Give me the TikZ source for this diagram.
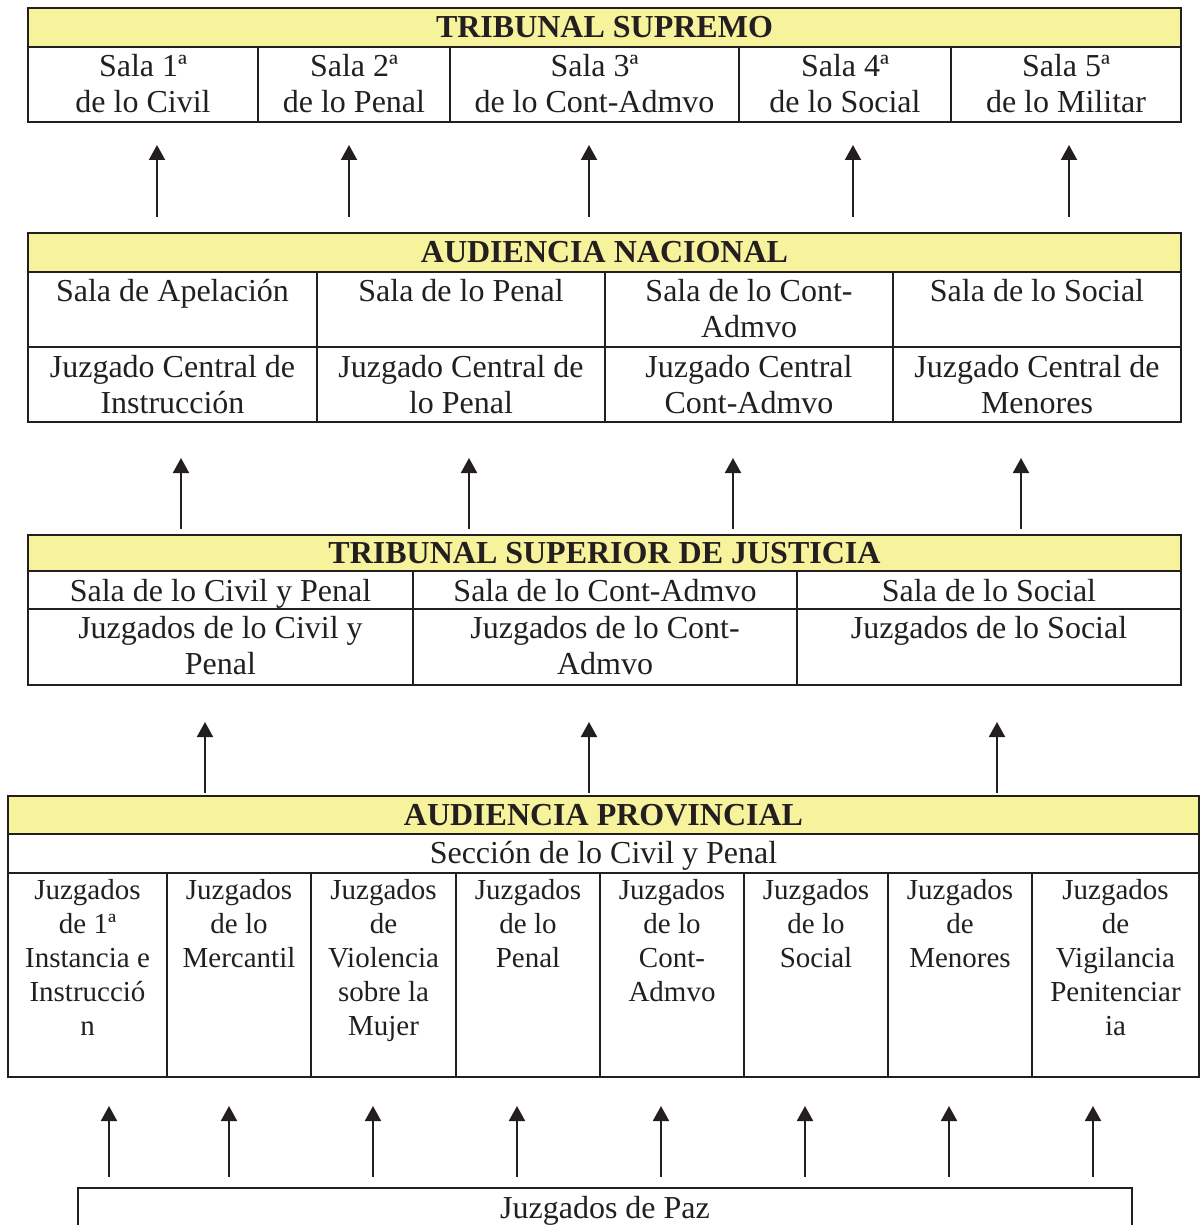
\documentclass[tikz,border=0pt]{standalone}
\usepackage{fontspec}
\setmainfont{Liberation Serif}
\usetikzlibrary{arrows.meta}
\definecolor{hdryellow}{RGB}{247,242,156}
\definecolor{ink}{RGB}{35,31,32}

\begin{document}
\begin{tikzpicture}[x=0.5pt, y=-0.5pt,
    frame/.style={draw=ink, line width=1.1pt, inner sep=0pt, outer sep=0pt, anchor=north west},
    hdr/.style={draw=ink, line width=1.1pt, fill=hdryellow},
    rule/.style={draw=ink, line width=1.1pt},
    title/.style={text=ink, inner sep=0pt, font=\fontsize{16}{18}\selectfont\bfseries},
    txt/.style={text=ink, inner sep=0pt, anchor=north, align=center, font=\fontsize{16}{18}\selectfont},
    small/.style={txt, font=\fontsize{14.5}{17}\selectfont},
    up/.style={draw=ink, line width=1pt, -{Triangle[length=7.5pt, width=8pt]}}]
                \useasboundingbox (0,0) rectangle (1200,1225);
                \clip (0,0) rectangle (1200,1225);
                \node[frame, minimum width=576.5pt, minimum height=57pt] (ts) at (28,8) {};
                \draw[hdr] (28,8) rectangle (1181,47);
                \foreach \x in {258,450,739,951} \draw[rule] (\x,47) -- (\x,122);
                \node[title] (tst) at (604.5,27.5) {TRIBUNAL SUPREMO};
                \node[txt] (ts1) at (143,54) {Sala 1ª\\de lo Civil};
                \node[txt] (ts2) at (354,54) {Sala 2ª\\de lo Penal};
                \node[txt] (ts3) at (594.5,54) {Sala 3ª\\de lo Cont-Admvo};
                \node[txt] (ts4) at (845,54) {Sala 4ª\\de lo Social};
                \node[txt] (ts5) at (1066,54) {Sala 5ª\\de lo Militar};
                \node[frame, minimum width=576.5pt, minimum height=94.5pt] (an) at (28,233) {};
                \draw[hdr] (28,233) rectangle (1181,272);
                \draw[rule] (28,347) -- (1181,347);
                \foreach \x in {317,605,893} \draw[rule] (\x,272) -- (\x,422);
                \node[title] (ant) at (604.5,252.5) {AUDIENCIA NACIONAL};
                \node[txt] (an1) at (172.5,279) {Sala de Apelación};
                \node[txt] (an2) at (461,279) {Sala de lo Penal};
                \node[txt] (an3) at (749,279) {Sala de lo Cont-\\Admvo};
                \node[txt] (an4) at (1037,279) {Sala de lo Social};
                \node[txt] (an5) at (172.5,355) {Juzgado Central de\\Instrucción};
                \node[txt] (an6) at (461,355) {Juzgado Central de\\lo Penal};
                \node[txt] (an7) at (749,355) {Juzgado Central\\Cont-Admvo};
                \node[txt] (an8) at (1037,355) {Juzgado Central de\\Menores};
                \node[frame, minimum width=576.5pt, minimum height=75pt] (tsj) at (28,535) {};
                \draw[hdr] (28,535) rectangle (1181,571);
                \draw[rule] (28,609) -- (1181,609);
                \foreach \x in {413,797} \draw[rule] (\x,571) -- (\x,685);
                \node[title] (tsjt) at (604.5,553) {TRIBUNAL SUPERIOR DE JUSTICIA};
                \node[txt] (tsj1) at (220.5,579) {Sala de lo Civil y Penal};
                \node[txt] (tsj2) at (605,579) {Sala de lo Cont-Admvo};
                \node[txt] (tsj3) at (989,579) {Sala de lo Social};
                \node[txt] (tsj4) at (220.5,616) {Juzgados de lo Civil y\\Penal};
                \node[txt] (tsj5) at (605,616) {Juzgados de lo Cont-\\Admvo};
                \node[txt] (tsj6) at (989,616) {Juzgados de lo Social};
                \node[frame, minimum width=595.5pt, minimum height=140.5pt] (ap) at (8,796) {};
                \draw[hdr] (8,796) rectangle (1199,834);
                \draw[rule] (8,873) -- (1199,873);
                \foreach \x in {167,311,456,600,744,888,1032} \draw[rule] (\x,873) -- (\x,1077);
                \node[title] (apt) at (603.5,815) {AUDIENCIA PROVINCIAL};
                \node[txt] (ap0) at (603.5,841) {Sección de lo Civil y Penal};
                \node[small] (ap1) at (87.5,879) {Juzgados\\de 1ª\\Instancia e\\Instrucció\\n};
                \node[small] (ap2) at (239,879) {Juzgados\\de lo\\Mercantil};
                \node[small] (ap3) at (383.5,879) {Juzgados\\de\\Violencia\\sobre la\\Mujer};
                \node[small] (ap4) at (528,879) {Juzgados\\de lo\\Penal};
                \node[small] (ap5) at (672,879) {Juzgados\\de lo\\Cont-\\Admvo};
                \node[small] (ap6) at (816,879) {Juzgados\\de lo\\Social};
                \node[small] (ap7) at (960,879) {Juzgados\\de\\Menores};
                \node[small] (ap8) at (1115.5,879) {Juzgados\\de\\Vigilancia\\Penitenciar\\ia};
                \node[frame, minimum width=527pt, minimum height=40pt] (paz) at (78,1188) {};
                \node[txt] (paz1) at (605,1196) {Juzgados de Paz};
                \foreach \x in {157,349,589,853,1069}
                    \draw[up, shorten <=8pt, shorten >=11.5pt] (\x,0 |- an.north) -- (\x,0 |- ts.south);
                \foreach \x in {181,469,733,1021}
                    \draw[up, shorten <=3pt, shorten >=18pt] (\x,0 |- tsj.north) -- (\x,0 |- an.south);
                \foreach \x in {205,589,997}
                    \draw[up, shorten <=1.5pt, shorten >=18.5pt] (\x,0 |- ap.north) -- (\x,0 |- tsj.south);
                \foreach \x in {109,229,373,517,661,805,949,1093}
                    \draw[up, shorten <=5.5pt, shorten >=14.5pt] (\x,0 |- paz.north) -- (\x,0 |- ap.south);
\end{tikzpicture}
\end{document}
